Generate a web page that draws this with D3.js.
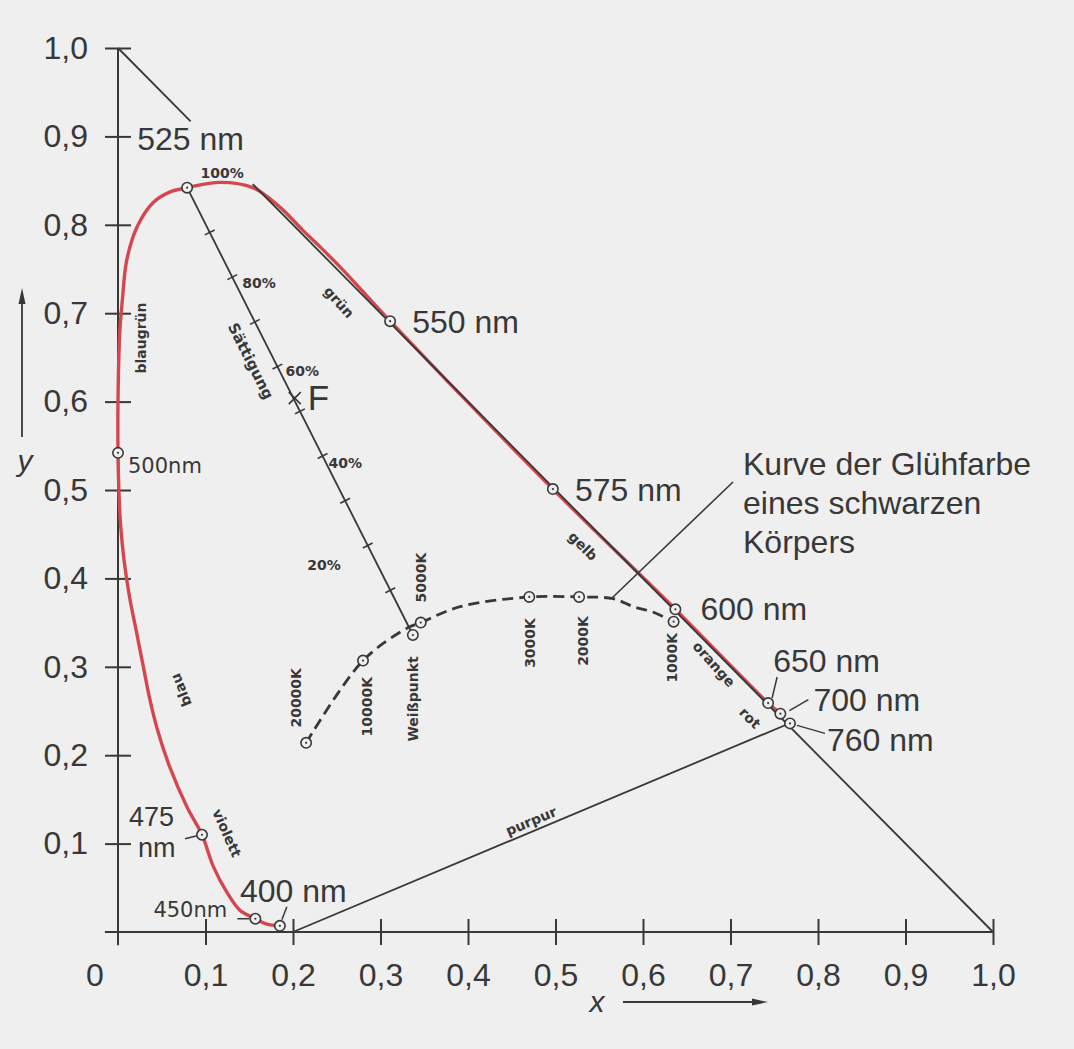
<!DOCTYPE html>
<html>
<head>
<meta charset="utf-8">
<script src="https://cdn.jsdelivr.net/npm/d3@7"></script>
<style>
  html, body { margin: 0; padding: 0; background: #efefef; }
  svg { display: block; }
</style>
</head>
<body>
<svg id="chart" width="1074" height="1049"></svg>
<script>
// Normfarbtafel (CIE 1931, x/y) mit Spektralfarbenzug, Purpurgerade und Planckscher Kurve

const X_TICKS = [0.1, 0.2, 0.3, 0.4, 0.5, 0.6, 0.7, 0.8, 0.9, 1.0];
const Y_TICKS = [0.1, 0.2, 0.3, 0.4, 0.5, 0.6, 0.7, 0.8, 0.9, 1.0];

// Spektralfarbenzug (x, y), von 400 nm bis 700 nm
const SPECTRAL_LOCUS = [
  [0.185, 0.007], [0.170, 0.009], [0.157, 0.015], [0.139, 0.025], [0.125, 0.044],
  [0.109, 0.074], [0.096, 0.110], [0.079, 0.141], [0.059, 0.187], [0.045, 0.229],
  [0.036, 0.265], [0.029, 0.300], [0.021, 0.340], [0.013, 0.380], [0.007, 0.420],
  [0.003, 0.460], [0.001, 0.500], [0.000, 0.542], [0.000, 0.600], [0.002, 0.678],
  [0.005, 0.715], [0.010, 0.760], [0.022, 0.798], [0.040, 0.825], [0.059, 0.837],
  [0.079, 0.842], [0.117, 0.848], [0.154, 0.842], [0.185, 0.820], [0.211, 0.794],
  [0.231, 0.775], [0.257, 0.749], [0.311, 0.691], [0.497, 0.501], [0.637, 0.365],
  [0.743, 0.259], [0.757, 0.247]
];

// markierte Wellenlängen
const WAVELENGTHS = [
  { nm: 400, x: 0.185, y: 0.007 },
  { nm: 450, x: 0.157, y: 0.015 },
  { nm: 475, x: 0.096, y: 0.110 },
  { nm: 500, x: 0.000, y: 0.542 },
  { nm: 525, x: 0.079, y: 0.842 },
  { nm: 550, x: 0.311, y: 0.691 },
  { nm: 575, x: 0.497, y: 0.501 },
  { nm: 600, x: 0.637, y: 0.365 },
  { nm: 650, x: 0.743, y: 0.259 },
  { nm: 700, x: 0.757, y: 0.247 },
  { nm: 760, x: 0.768, y: 0.236 }
];

// Gerade x + y = 1 (unterbrochen an der Beschriftung oben links)
const DIAGONAL_SEGMENTS = [
  [[0.000, 1.000], [0.083, 0.917]],
  [[0.154, 0.846], [1.000, 0.000]]
];

// Purpurgerade
const PURPLE_LINE = [[0.200, 0.000], [0.765, 0.235]];

// Kurve der Glühfarbe eines schwarzen Körpers
const PLANCK_LOCUS = [
  [0.215, 0.214], [0.280, 0.307], [0.331, 0.344], [0.346, 0.350], [0.391, 0.368],
  [0.470, 0.379], [0.527, 0.379], [0.566, 0.377], [0.589, 0.368], [0.611, 0.362],
  [0.635, 0.351]
];
const PLANCK_MARKS = [
  { label: "20000K", x: 0.215, y: 0.214 },
  { label: "10000K", x: 0.280, y: 0.307 },
  { label: "5000K",  x: 0.346, y: 0.350 },
  { label: "3000K",  x: 0.470, y: 0.379 },
  { label: "2000K",  x: 0.527, y: 0.379 },
  { label: "1000K",  x: 0.635, y: 0.351 }
];
const WHITE_POINT = { label: "Weißpunkt", x: 0.337, y: 0.336 };

// Sättigungsskala von 525 nm zum Weißpunkt
const SATURATION_STEPS = [0.1, 0.2, 0.3, 0.4, 0.5, 0.6, 0.7, 0.8, 0.9];
const SATURATION_LABELS = [1.0, 0.8, 0.6, 0.4, 0.2];
const F_POINT = { label: "F", x: 0.202, y: 0.604 };

const HUE_NAMES = ["blaugrün", "grün", "gelb", "orange", "rot", "purpur", "violett", "blau"];

// ---------------------------------------------------------------------------
const INK = "#383838";
const RED = "#d5474f";
const BG = "#efefef";
const BIG = "'Liberation Sans', Arial, Helvetica, sans-serif";
const TECH = "'DejaVu Sans', sans-serif";

const svg = d3.select("#chart");
svg.append("rect").attr("width", 1074).attr("height", 1049).attr("fill", BG);

const x = d3.scaleLinear().domain([0, 1]).range([118, 993]);
const y = d3.scaleLinear().domain([0, 1]).range([932, 48]);

const loc = d3.formatLocale({ decimal: ",", thousands: ".", grouping: [3], currency: ["", " €"] });
const fmt = loc.format(".1f");
const pct = d3.format(".0%");

// --- Achsen ---------------------------------------------------------------
const gx = svg.append("g")
  .attr("transform", `translate(0,${y(0)})`)
  .call(d3.axisBottom(x).tickValues(X_TICKS).tickSize(13).tickPadding(18).tickFormat(fmt));
gx.select(".domain").remove();
gx.selectAll(".tick line").attr("y1", -13).attr("stroke", INK).attr("stroke-width", 2);
gx.selectAll(".tick text").attr("font-family", BIG).attr("font-size", 32).attr("fill", INK);

const gy = svg.append("g")
  .attr("transform", `translate(${x(0)},0)`)
  .call(d3.axisLeft(y).tickValues(Y_TICKS).tickSize(13).tickPadding(17).tickFormat(fmt));
gy.select(".domain").remove();
gy.selectAll(".tick line").attr("x1", 13).attr("stroke", INK).attr("stroke-width", 2);
gy.selectAll(".tick text").attr("font-family", BIG).attr("font-size", 32).attr("fill", INK);

svg.append("line")
  .attr("x1", x(-0.015)).attr("x2", x(1)).attr("y1", y(0)).attr("y2", y(0))
  .attr("stroke", INK).attr("stroke-width", 2);
svg.append("line")
  .attr("x1", x(0)).attr("x2", x(0)).attr("y1", y(1)).attr("y2", y(-0.015))
  .attr("stroke", INK).attr("stroke-width", 2);

svg.append("text").text("0")
  .attr("x", x(0) - 23).attr("y", y(0) + 54)
  .attr("text-anchor", "middle").attr("font-family", BIG).attr("font-size", 32).attr("fill", INK);

// Achsenbezeichnungen mit Pfeilen
svg.append("text").text("x")
  .attr("x", 597).attr("y", 1012).attr("text-anchor", "middle")
  .attr("font-family", BIG).attr("font-style", "italic").attr("font-size", 30).attr("fill", INK);
svg.append("line").attr("x1", 623).attr("x2", 758).attr("y1", 1002).attr("y2", 1002)
  .attr("stroke", INK).attr("stroke-width", 1.8);
svg.append("path").attr("d", "M752,998.5 L768,1002 L752,1005.5 Z").attr("fill", INK);

svg.append("text").text("y")
  .attr("x", 25).attr("y", 471).attr("text-anchor", "middle")
  .attr("font-family", BIG).attr("font-style", "italic").attr("font-size", 30).attr("fill", INK);
svg.append("line").attr("x1", 22).attr("x2", 22).attr("y1", 437).attr("y2", 300)
  .attr("stroke", INK).attr("stroke-width", 1.8);
svg.append("path").attr("d", "M18.5,304 L22,288 L25.5,304 Z").attr("fill", INK);

// --- Kurven ----------------------------------------------------------------
const line = d3.line().x(d => x(d[0])).y(d => y(d[1]));

svg.append("path")
  .datum(SPECTRAL_LOCUS)
  .attr("d", line.curve(d3.curveCatmullRom.alpha(0.5)))
  .attr("fill", "none").attr("stroke", RED).attr("stroke-width", 3.4)
  .attr("stroke-linejoin", "round").attr("stroke-linecap", "round");

const straight = d3.line().x(d => x(d[0])).y(d => y(d[1]));
DIAGONAL_SEGMENTS.forEach(seg => {
  svg.append("path").datum(seg).attr("d", straight)
    .attr("fill", "none").attr("stroke", INK).attr("stroke-width", 1.8);
});
svg.append("path").datum(PURPLE_LINE).attr("d", straight)
  .attr("fill", "none").attr("stroke", INK).attr("stroke-width", 1.8);

// Sättigungsgerade
const s0 = WAVELENGTHS.find(d => d.nm === 525);
const satAt = t => [s0.x + (WHITE_POINT.x - s0.x) * (1 - t), s0.y + (WHITE_POINT.y - s0.y) * (1 - t)];
svg.append("path").datum([[s0.x, s0.y], [WHITE_POINT.x, WHITE_POINT.y]]).attr("d", straight)
  .attr("fill", "none").attr("stroke", INK).attr("stroke-width", 1.8);

const sdx = x(WHITE_POINT.x) - x(s0.x), sdy = y(WHITE_POINT.y) - y(s0.y);
const slen = Math.hypot(sdx, sdy);
const nx = -sdy / slen, ny = sdx / slen;   // Normale zur Sättigungsgeraden
const satAngle = Math.atan2(sdy, sdx) * 180 / Math.PI;

svg.append("g").selectAll("line")
  .data(SATURATION_STEPS)
  .join("line")
  .attr("x1", d => x(satAt(d)[0]) - nx * 5.5).attr("y1", d => y(satAt(d)[1]) - ny * 5.5)
  .attr("x2", d => x(satAt(d)[0]) + nx * 5.5).attr("y2", d => y(satAt(d)[1]) + ny * 5.5)
  .attr("stroke", INK).attr("stroke-width", 1.6);

// Prozentangaben an der Sättigungsskala
const pctOffset = { 1.0: [35, -10, "middle"], 0.8: [10, 11, "start"], 0.6: [8, 9, "start"], 0.4: [6, 12, "start"], 0.2: [-27, 24, "end"] };
svg.append("g").selectAll("text")
  .data(SATURATION_LABELS)
  .join("text")
  .text(d => pct(d))
  .attr("x", d => x(satAt(d)[0]) + pctOffset[d][0])
  .attr("y", d => y(satAt(d)[1]) + pctOffset[d][1])
  .attr("text-anchor", d => pctOffset[d][2])
  .attr("font-family", TECH).attr("font-weight", "bold").attr("font-size", 14).attr("fill", INK);

// Farbort F
{
  const fx = x(F_POINT.x), fy = y(F_POINT.y);
  svg.append("path")
    .attr("d", `M${fx - 6},${fy - 6} L${fx + 6},${fy + 6} M${fx + 6},${fy - 6} L${fx - 6},${fy + 6}`)
    .attr("stroke", INK).attr("stroke-width", 1.6);
  svg.append("text").text(F_POINT.label)
    .attr("x", fx + 13).attr("y", fy + 12)
    .attr("font-family", BIG).attr("font-size", 35).attr("fill", INK);
}

// Plancksche Kurve
svg.append("path")
  .datum(PLANCK_LOCUS)
  .attr("d", d3.line().x(d => x(d[0])).y(d => y(d[1])).curve(d3.curveCatmullRom.alpha(0.5)))
  .attr("fill", "none").attr("stroke", INK).attr("stroke-width", 2.8)
  .attr("stroke-dasharray", "11,6");

// Hinweislinie zur Beschriftung der Kurve
svg.append("line").attr("x1", 612).attr("y1", 598).attr("x2", 733).attr("y2", 482)
  .attr("stroke", INK).attr("stroke-width", 1.6);
svg.append("text")
  .attr("font-family", BIG).attr("font-size", 32).attr("fill", INK)
  .selectAll("tspan")
  .data(["Kurve der Glühfarbe", "eines schwarzen", "Körpers"])
  .join("tspan")
  .attr("x", 743)
  .attr("y", (d, i) => 475 + i * 39)
  .text(d => d);

// --- Markierungen (Kreise) -------------------------------------------------
function marker(px, py) {
  svg.append("circle").attr("cx", px).attr("cy", py).attr("r", 5.2)
    .attr("fill", BG).attr("stroke", INK).attr("stroke-width", 1.6);
  svg.append("circle").attr("cx", px).attr("cy", py).attr("r", 1.1).attr("fill", INK);
}

// Beschriftung der Wellenlängen: Versatz zum Kreis, Schrift, Zeilen, Hinweislinie
const nmLayout = {
  400: { dx: -40, dy: -24, font: "big", lines: ["400 nm"], lead: [[2, -6], [7, -19]] },
  450: { dx: -102, dy: -2, font: "tech", lines: ["450nm"], lead: [[-18, 0], [-6, 0]] },
  475: { dx: -73, dy: -9, size: 27, gap: 31, font: "big", lines: ["475", "nm"], indent: [0, 9], lead: [[-17, 4], [-5, 1]] },
  500: { dx: 10, dy: 20, font: "tech", lines: ["500nm"] },
  525: { dx: -50, dy: -38, font: "big", lines: ["525 nm"] },
  550: { dx: 22, dy: 12, font: "big", lines: ["550 nm"] },
  575: { dx: 22, dy: 12, font: "big", lines: ["575 nm"] },
  600: { dx: 25, dy: 11, font: "big", lines: ["600 nm"] },
  650: { dx: 5, dy: -31, font: "big", lines: ["650 nm"], lead: [[4, -5], [9, -26]] },
  700: { dx: 33, dy: -3, font: "big", lines: ["700 nm"], lead: [[9, -3], [28, -14]] },
  760: { dx: 37, dy: 28, font: "big", lines: ["760 nm"], lead: [[7, 2], [35, 10]] }
};

WAVELENGTHS.forEach(w => {
  const px = x(w.x), py = y(w.y);
  const L = nmLayout[w.nm];
  if (L.lead) {
    svg.append("line")
      .attr("x1", px + L.lead[0][0]).attr("y1", py + L.lead[0][1])
      .attr("x2", px + L.lead[1][0]).attr("y2", py + L.lead[1][1])
      .attr("stroke", INK).attr("stroke-width", 1.5);
  }
  const t = svg.append("text").attr("fill", INK);
  if (L.font === "big") t.attr("font-family", BIG).attr("font-size", L.size || 32);
  else t.attr("font-family", TECH).attr("font-size", 21);
  t.selectAll("tspan")
    .data(L.lines)
    .join("tspan")
    .attr("x", (d, i) => px + L.dx + (L.indent ? L.indent[i] : 0))
    .attr("y", (d, i) => py + L.dy + i * (L.gap || 30))
    .text(d => d);
});

// Temperaturangaben und Weißpunkt (senkrecht)
const kLayout = {
  "20000K": [-10, -45], "10000K": [4, 46], "5000K": [0, -45],
  "3000K": [1, 46], "2000K": [4, 44], "1000K": [-2, 36]
};
[...PLANCK_MARKS, WHITE_POINT].forEach(k => {
  const off = k.label === WHITE_POINT.label ? [0, 64] : kLayout[k.label];
  const px = x(k.x) + off[0], py = y(k.y) + off[1];
  svg.append("text").text(k.label)
    .attr("transform", `translate(${px},${py}) rotate(-90)`)
    .attr("text-anchor", "middle").attr("dy", "0.36em")
    .attr("font-family", TECH).attr("font-weight", "bold").attr("font-size", 14).attr("fill", INK);
});

// Farbbezeichnungen entlang der Kurven
const hueLayout = {
  "blaugrün": [141, 338, -90],
  "grün": [339, 302, 48],
  "gelb": [583, 546, 45],
  "orange": [714, 664, 48],
  "rot": [750, 718, 45],
  "purpur": [531, 821, -22.8],
  "violett": [227, 833, 66],
  "blau": [181, 690, -112]
};
HUE_NAMES.forEach(h => {
  const [px, py, a] = hueLayout[h];
  svg.append("text").text(h)
    .attr("transform", `translate(${px},${py}) rotate(${a})`)
    .attr("text-anchor", "middle").attr("dy", "0.36em")
    .attr("font-family", TECH).attr("font-weight", "bold").attr("font-size", 14).attr("fill", INK);
});

svg.append("text").text("Sättigung")
  .attr("transform", `translate(251,361) rotate(${satAngle})`)
  .attr("text-anchor", "middle").attr("dy", "0.36em")
  .attr("font-family", TECH).attr("font-weight", "bold").attr("font-size", 15).attr("fill", INK);

// Kreise zuletzt
WAVELENGTHS.forEach(w => marker(x(w.x), y(w.y)));
PLANCK_MARKS.forEach(k => marker(x(k.x), y(k.y)));
marker(x(WHITE_POINT.x), y(WHITE_POINT.y));
</script>
</body>
</html>
